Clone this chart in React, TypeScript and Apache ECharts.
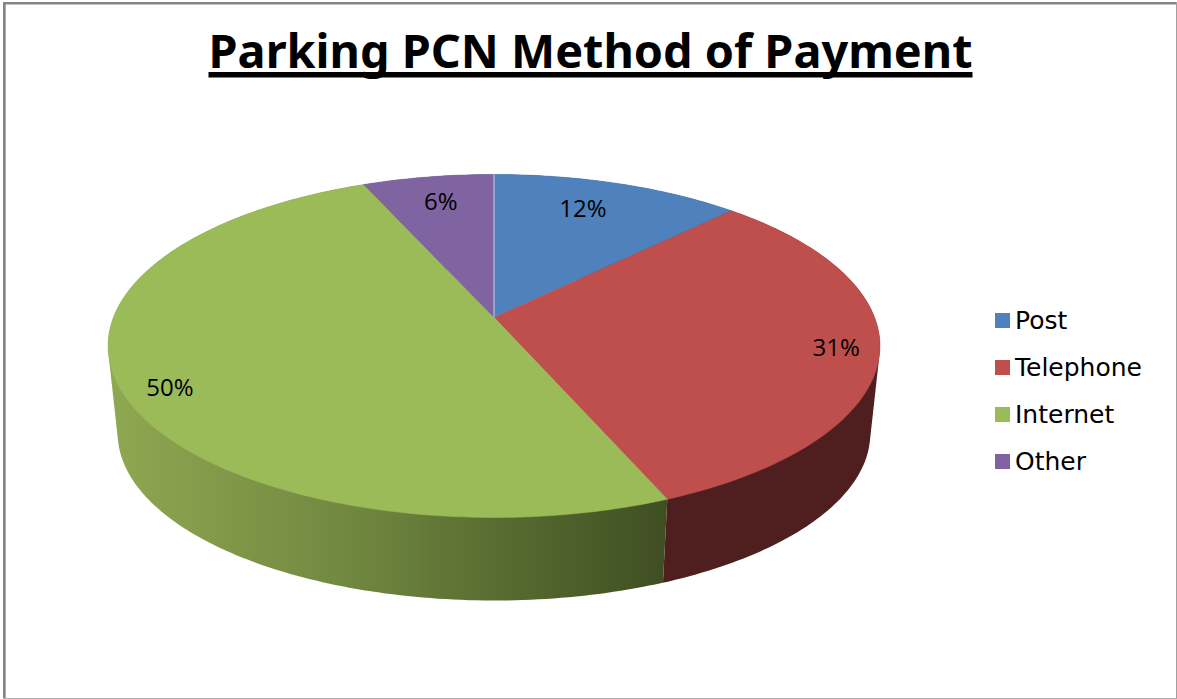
import React, { useEffect, useRef } from "react";
import * as echarts from "echarts";

const TITLE = "Parking PCN Method of Payment";
const categories = ["Post", "Telephone", "Internet", "Other"];
const shares = [12.3, 31.4, 49.85, 6.45];
const topColors = ["#4F81BD", "#BE4F4C", "#9BBB59", "#8064A2"];
const labelDepth = [0.78, 0.89, 0.89, 0.8];
const labelNudge = [[-11, -2], [0, 0], [7, 8], [1, -1]];

// Perspective of the pie's top face
const CX = 494, APEX_Y = 317.5, ELLIPSE_Y = 345.5;
const A = 380.6, B = 166.8, K = -0.166;
const WALL_SCALE = 0.975, WALL_DROP = 87.3;
const total = shares.reduce((a, b) => a + b, 0);

function project(deg: number, rho = 1): [number, number] {
  const t = (deg * Math.PI) / 180;
  const u = Math.sin(t) * rho, v = -Math.cos(t) * rho;
  const w = 1 + K * v;
  return [CX + (A * u) / w, APEX_Y + (B * v) / w];
}
function lower(p: [number, number]): [number, number] {
  return [CX + (p[0] - CX) * WALL_SCALE, ELLIPSE_Y + (p[1] - ELLIPSE_Y) * WALL_SCALE + WALL_DROP];
}
function hull(pts: [number, number][]) {
  const s = [...pts].sort((a, b) => a[0] - b[0] || a[1] - b[1]);
  const cross = (o: number[], a: number[], b: number[]) =>
    (a[0] - o[0]) * (b[1] - o[1]) - (a[1] - o[1]) * (b[0] - o[0]);
  const build = (list: [number, number][]) => {
    const out: [number, number][] = [];
    for (const p of list) {
      while (out.length >= 2 && cross(out[out.length - 2], out[out.length - 1], p) <= 0) out.pop();
      out.push(p);
    }
    out.pop();
    return out;
  };
  return [...build(s), ...build(s.slice().reverse())];
}

const wallFill = (index: number): any => {
  if (index === 2) {
    return new echarts.graphic.LinearGradient(108, 0, 667, 0, [
      { offset: 0, color: "#8FA851" },
      { offset: 0.25, color: "#7E9548" },
      { offset: 0.45, color: "#6F863F" },
      { offset: 0.7, color: "#586C31" },
      { offset: 1, color: "#3F4E22" },
    ], true);
  }
  return index === 1 ? "#4E1F1E" : "#3A4A66";
};

function makeRenderItem(index: number) {
  const before = shares.slice(0, index).reduce((a, b) => a + b, 0);
  return (_params: any, api: any) => {
    const start = (before / total) * 360;
    const end = start + (api.value(0) / total) * 360;
    const arc: [number, number][] = [];
    const steps = Math.max(4, Math.ceil(end - start));
    for (let i = 0; i <= steps; i++) arc.push(project(start + ((end - start) * i) / steps));
    const wall = hull([...arc, ...arc.map(lower)]);
    const mid = project((start + end) / 2, labelDepth[index]);
    const apex = project(0, 0);
    const children: any[] = [
      { type: "polygon", z2: 1, shape: { points: wall }, style: { fill: wallFill(index) } },
      { type: "polygon", z2: 10, shape: { points: [apex, ...arc] }, style: { fill: topColors[index], stroke: topColors[index], lineWidth: 0.5 } },
      {
        type: "text", z2: 30, x: mid[0] + labelNudge[index][0], y: mid[1] + labelNudge[index][1],
        style: {
          text: `${Math.round(api.value(0))}%`, fill: "#000", fontFamily: "Open Sans",
          fontSize: 24, align: "center", verticalAlign: "middle",
        },
      },
    ];
    if (index === 0) {
      children.push({
        type: "line", z2: 20,
        shape: { x1: apex[0], y1: apex[1], x2: arc[0][0], y2: arc[0][1] },
        style: { stroke: "#C9D3E3", lineWidth: 1 },
      });
    }
    return { type: "group", children };
  };
}

export default function App() {
  const ref = useRef<HTMLDivElement>(null);
  useEffect(() => {
    const chart = echarts.init(ref.current!, null, { renderer: "svg" });
    chart.setOption({
      animation: false,
      backgroundColor: "#fff",
      title: {
        text: TITLE, left: 585.5, top: 21, textAlign: "center",
        textStyle: { fontFamily: "Noto Sans", fontWeight: "bold", fontSize: 46.8, color: "#000" },
      },
      legend: {
        data: categories, orient: "vertical", left: 990, top: 303,
        icon: "rect", itemWidth: 15, itemHeight: 15, itemGap: 22,
        selectedMode: false,
        textStyle: { fontFamily: "DejaVu Sans", fontSize: 25, color: "#000" },
      },
      graphic: {
        elements: [
          { type: "rect", shape: { x: 208.5, y: 72, width: 764, height: 5.5 }, style: { fill: "#000" } },
          { type: "rect", shape: { x: 3, y: 2, width: 1174, height: 2.5 }, style: { fill: "#868686" } },
          { type: "rect", shape: { x: 3, y: 2, width: 2.7, height: 697 }, style: { fill: "#868686" } },
          { type: "rect", shape: { x: 1176, y: 2, width: 1, height: 697 }, style: { fill: "#A0A0A0" } },
          { type: "rect", shape: { x: 3, y: 698, width: 1174, height: 1 }, style: { fill: "#B0B0B0" } },
        ],
      },
      series: categories.map((name, i) => ({
        type: "custom",
        name,
        coordinateSystem: "none",
        itemStyle: { color: topColors[i] },
        renderItem: makeRenderItem(i),
        data: [[shares[i]]],
      })),
    });
    return () => chart.dispose();
  }, []);
  return <div ref={ref} style={{ position: "absolute", left: 0, top: 0, width: 1177, height: 699 }} />;
}
